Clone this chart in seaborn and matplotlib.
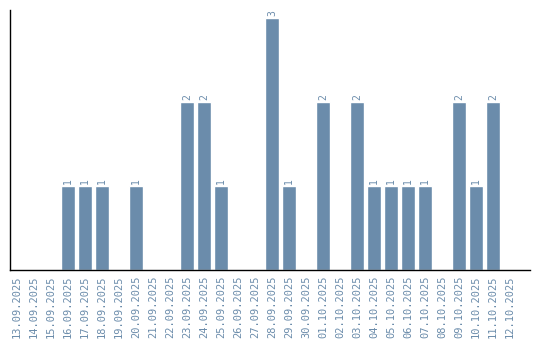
import matplotlib
matplotlib.use("Agg")
import matplotlib.pyplot as plt
import seaborn as sns
import pandas as pd

dates = ["13.09.2025","14.09.2025","15.09.2025","16.09.2025","17.09.2025","18.09.2025",
         "19.09.2025","20.09.2025","21.09.2025","22.09.2025","23.09.2025","24.09.2025",
         "25.09.2025","26.09.2025","27.09.2025","28.09.2025","29.09.2025","30.09.2025",
         "01.10.2025","02.10.2025","03.10.2025","04.10.2025","05.10.2025","06.10.2025",
         "07.10.2025","08.10.2025","09.10.2025","10.10.2025","11.10.2025","12.10.2025"]
counts = [0,0,0,1,1,1,0,1,0,0,2,2,1,0,0,3,1,0,2,0,2,1,1,1,1,0,2,1,2,0]

sns.set_style("white")
plt.rcParams['font.family'] = ['DejaVu Sans Mono', 'DejaVu Sans']

color = "#6b8cab"
df = pd.DataFrame({"date": dates, "count": counts})

fig = plt.figure(figsize=(5.4, 3.4), dpi=100)
ax = fig.add_axes([10/540, 70/340, 520/540, 260/340])
sns.barplot(data=df, x="date", y="count", color=color, saturation=1, width=0.82, ax=ax)

for i, v in enumerate(counts):
    if v > 0:
        ax.text(i, v + 0.03, str(v), rotation=90, ha="center", va="bottom",
                fontsize=7, color=color)

ax.set_xlim(-0.41, 30.18)
ax.set_ylim(0, 3.1)
ax.set_xlabel("")
ax.set_ylabel("")
ax.set_yticks([])
ax.tick_params(axis="x", labelrotation=90, labelsize=7.5, labelcolor=color, length=0, pad=4)
for s in ["top", "right"]:
    ax.spines[s].set_visible(False)
for s in ["left", "bottom"]:
    ax.spines[s].set_color("black")
    ax.spines[s].set_linewidth(1)

fig.savefig("out.png", dpi=100)
